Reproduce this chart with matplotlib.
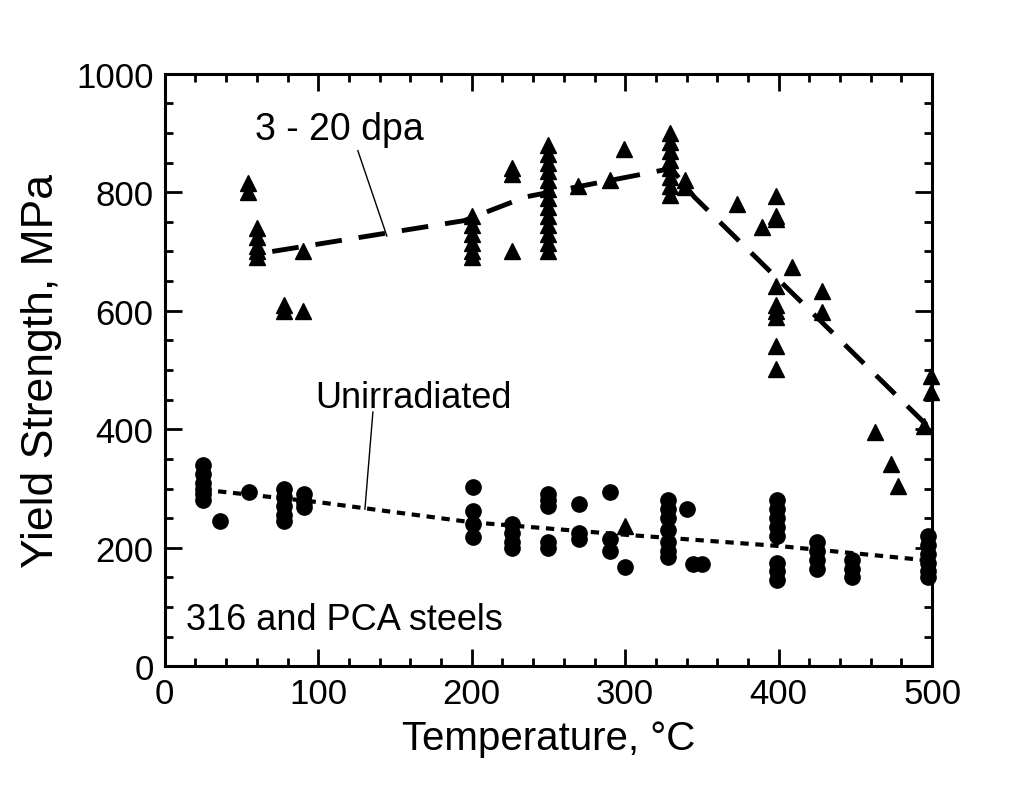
import matplotlib
matplotlib.use("Agg")
import matplotlib.pyplot as plt
from matplotlib.ticker import MultipleLocator

plt.rcParams['font.family'] = ['Liberation Sans', 'DejaVu Sans']

# irradiated (3 - 20 dpa), triangles
irr_T = [54, 54,
         60, 60, 60, 60, 60,
         78, 78, 90, 90,
         200, 200, 200, 200, 200, 200,
         226, 226, 226,
         250, 250, 250, 250, 250, 250, 250, 250, 250, 250, 250, 250, 250,
         269, 290, 299, 300,
         329, 329, 329, 329, 329, 329, 329, 329,
         339, 339, 373, 389,
         398, 398, 398, 409,
         398, 398, 398, 398, 398, 398,
         428, 428, 463, 473, 478,
         499, 499, 495]
irr_ys = [815, 800,
          740, 725, 710, 700, 690,
          600, 610, 600, 700,
          760, 745, 730, 715, 700, 690,
          840, 830, 700,
          880, 865, 850, 835, 820, 805, 790, 775, 760, 745, 730, 715, 700,
          810, 820, 873, 237,
          900, 885, 870, 855, 840, 825, 810, 795,
          820, 808, 780, 742,
          794, 760, 755, 674,
          642, 610, 600, 590, 541, 502,
          633, 598, 395, 341, 304,
          490, 463, 405]

# unirradiated, circles
unirr_T = [25, 25, 25, 25, 25, 25,
           36, 55,
           78, 78, 78, 78, 78,
           91, 91, 91,
           201, 201, 201, 201,
           226, 226, 226, 226,
           250, 250, 250, 250, 250,
           270, 270, 270,
           290, 290, 290, 300,
           328, 328, 328, 328, 328, 328, 328,
           340, 344, 350,
           399, 399, 399, 399, 399, 399, 399, 399,
           425, 425, 425, 425,
           448, 448, 448,
           497, 497, 497, 497, 497, 497]
unirr_ys = [340, 325, 310, 300, 290, 280,
            245, 294,
            300, 285, 270, 255, 245,
            290, 278, 268,
            302, 262, 240, 218,
            240, 225, 210, 200,
            290, 280, 270, 210, 200,
            274, 225, 215,
            294, 214, 194, 167,
            280, 265, 250, 230, 210, 195, 185,
            265, 172, 172,
            280, 265, 250, 235, 220, 175, 160, 145,
            210, 195, 180, 165,
            180, 165, 150,
            220, 205, 190, 175, 160, 150]

# trend lines (hand drawn in the original)
irr_fit_T = [70, 195, 235, 330, 345, 500]
irr_fit_ys = [700, 752, 792, 840, 792, 398]
unirr_fit_T = [25, 100, 200, 300, 400, 500]
unirr_fit_ys = [298, 277, 243, 222, 203, 178]

fig = plt.figure(figsize=(10.11, 8.03), dpi=100)
ax = fig.add_axes([0.163, 0.169, 0.759, 0.738])

ax.plot(irr_T, irr_ys, "^", color="black", markersize=12, clip_on=False)
ax.plot(unirr_T, unirr_ys, "o", color="black", markersize=11, clip_on=False)
ax.plot(irr_fit_T, irr_fit_ys, color="black", lw=3.5, dashes=(5.5, 3.5))
ax.plot(unirr_fit_T, unirr_fit_ys, color="black", lw=3, dashes=(2, 1.6))

ax.text(114, 907, "3 - 20 dpa", fontsize=27, ha="center", va="center")
ax.plot([125.8, 144.7], [870, 726], color="black", lw=1)
ax.text(162, 454, "Unirradiated", fontsize=26, ha="center", va="center")
ax.plot([135.6, 130.4], [429, 265], color="black", lw=1)
ax.text(14, 79, "316 and PCA steels", fontsize=26, ha="left", va="center")

ax.set_xlim(0, 500)
ax.set_ylim(0, 1000)
ax.xaxis.set_major_locator(MultipleLocator(100))
ax.xaxis.set_minor_locator(MultipleLocator(20))
ax.yaxis.set_major_locator(MultipleLocator(200))
ax.yaxis.set_minor_locator(MultipleLocator(50))
ax.tick_params(which="both", direction="in", top=True, right=True, width=2)
ax.tick_params(which="major", length=12, labelsize=25, pad=8)
ax.tick_params(which="minor", length=6)
for s in ax.spines.values():
    s.set_linewidth(2.2)

ax.set_xlabel("Temperature, °C", fontsize=29, labelpad=6)
ax.set_ylabel("Yield Strength, MPa", fontsize=32, labelpad=10)

fig.savefig("out.png", dpi=100)
